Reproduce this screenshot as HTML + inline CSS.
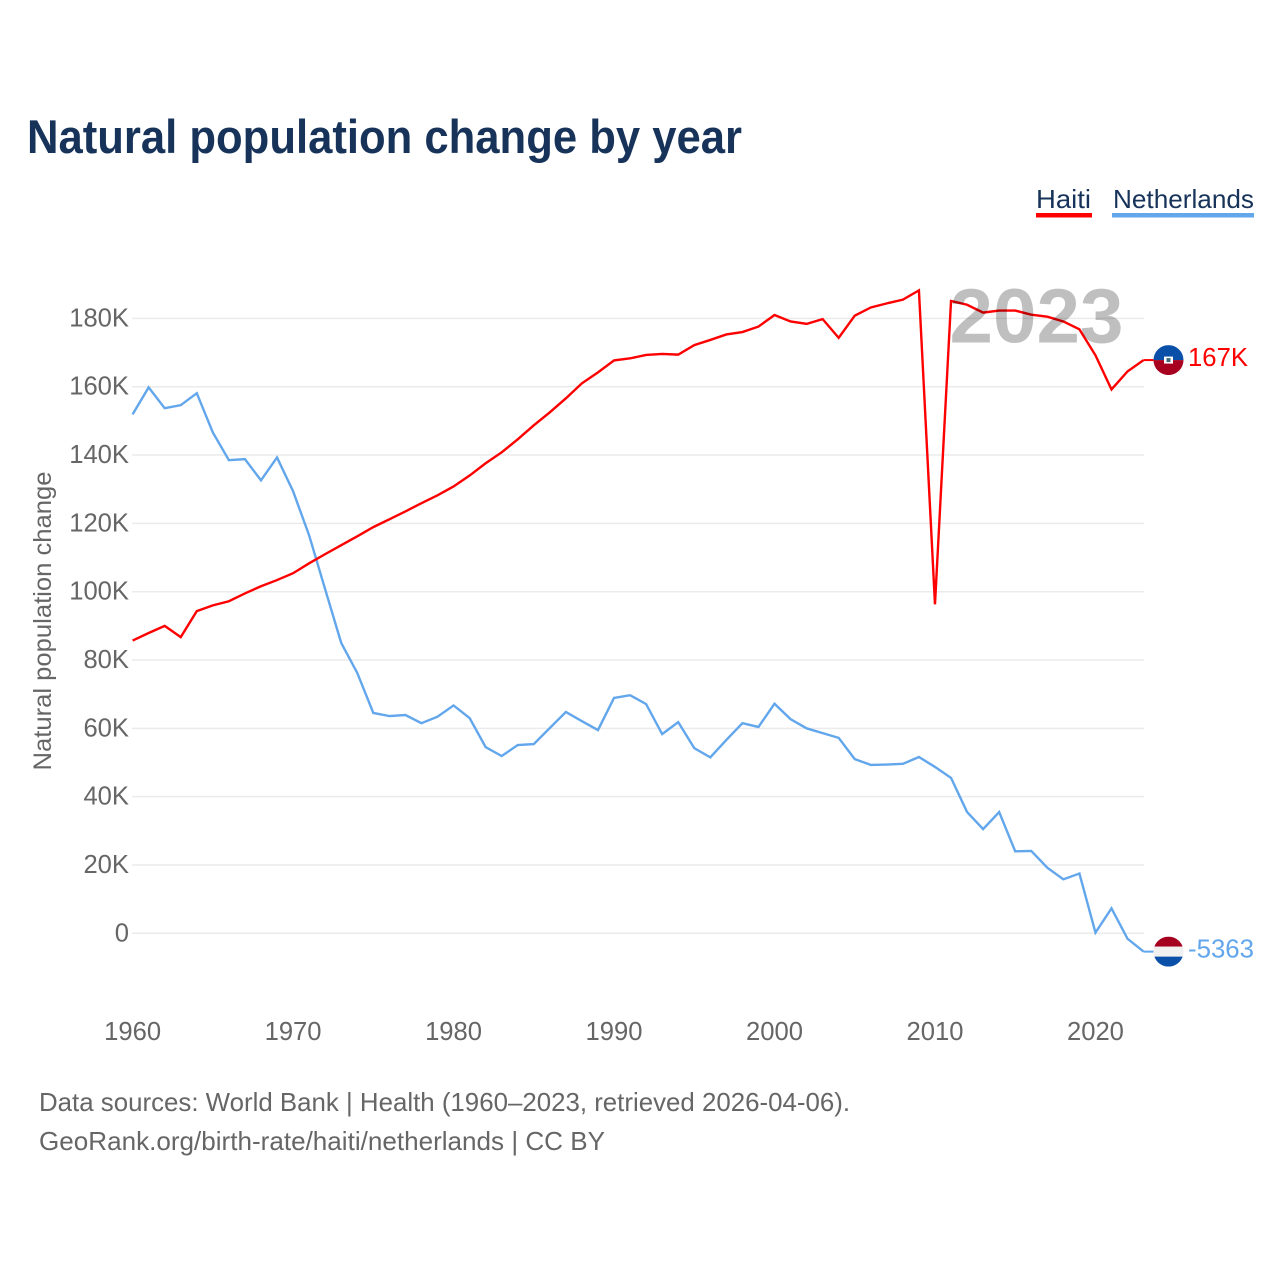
<!DOCTYPE html>
<html lang="en">
<head>
<meta charset="utf-8">
<title>Natural population change by year</title>
<style>
html,body{margin:0;padding:0;background:#fff;width:1280px;height:1280px;overflow:hidden}
svg{display:block;font-family:"Liberation Sans",sans-serif}
</style>
</head>
<body>
<svg id="chart" width="1280" height="1280" viewBox="0 0 1280 1280" xmlns="http://www.w3.org/2000/svg">
  <defs>
    <clipPath id="haiti-clip"><circle id="haiti-clip-circle" r="15"></circle></clipPath>
    <clipPath id="netherlands-clip"><circle id="netherlands-clip-circle" r="15"></circle></clipPath>
  </defs>
  <rect width="1280" height="1280" fill="#fff"></rect>
  <text x="27" y="153" font-size="47" font-weight="700" fill="#17335a" textLength="715" lengthAdjust="spacingAndGlyphs">Natural population change by year</text>

  <g>
    <g>
      <text x="1036" y="208" font-size="26" fill="#17335a" textLength="55" lengthAdjust="spacingAndGlyphs">Haiti</text>
      <rect x="1036" y="213" width="56" height="4.5" fill="#ff0000"></rect>
    </g>
    <g>
      <text x="1113" y="208" font-size="26" fill="#17335a" textLength="141" lengthAdjust="spacingAndGlyphs">Netherlands</text>
      <rect x="1112" y="213" width="142" height="4.5" fill="#62a6ec"></rect>
    </g>
  </g>

  <g id="grid"></g>
  <g id="y-axis"></g>
  <g id="x-axis"></g>
  <text transform="translate(51,621) rotate(-90)" text-anchor="middle" font-size="25" fill="#666" textLength="299" lengthAdjust="spacingAndGlyphs">Natural population change</text>

  <g id="series"></g>

  <text x="1123.5" y="342.5" text-anchor="end" font-size="77" font-weight="700" fill="#000" fill-opacity="0.25" textLength="174" lengthAdjust="spacingAndGlyphs">2023</text>

  <g id="end-markers"></g>

  <g>
    <text x="39" y="1111" font-size="26" fill="#666" textLength="811" lengthAdjust="spacingAndGlyphs">Data sources: World Bank | Health (1960–2023, retrieved 2026-04-06).</text>
    <text x="39" y="1150" font-size="26" fill="#666" textLength="566" lengthAdjust="spacingAndGlyphs">GeoRank.org/birth-rate/haiti/netherlands | CC BY</text>
  </g>
</svg>

<script>
const years = [1960,1961,1962,1963,1964,1965,1966,1967,1968,1969,
  1970,1971,1972,1973,1974,1975,1976,1977,1978,1979,
  1980,1981,1982,1983,1984,1985,1986,1987,1988,1989,
  1990,1991,1992,1993,1994,1995,1996,1997,1998,1999,
  2000,2001,2002,2003,2004,2005,2006,2007,2008,2009,
  2010,2011,2012,2013,2014,2015,2016,2017,2018,2019,
  2020,2021,2022,2023];
const haitiValues = [85700,87900,90000,86700,94300,96000,97200,99500,101600,103400,
  105400,108300,111000,113600,116200,118900,121200,123500,125900,128200,
  130800,134000,137600,140800,144600,148700,152500,156600,161000,164200,
  167700,168300,169300,169600,169400,172200,173700,175300,176000,177600,
  181000,179100,178400,179800,174300,180800,183200,184400,185500,188200,
  96300,185100,184000,181700,182300,182300,181100,180500,179100,176800,
  169200,159200,164500,167800];
const netherlandsValues = [151900,159800,153700,154600,158100,146600,138500,138800,132600,139300,
  129400,116500,100700,85000,76200,64500,63600,63900,61500,63400,
  66700,63000,54500,51900,55100,55400,60100,64800,62100,59500,
  68900,69700,67100,58300,61800,54200,51500,56600,61500,60400,
  67200,62700,60000,58600,57200,51000,49300,49400,49600,51600,
  48700,45500,35500,30500,35500,24000,24100,19200,15800,17500,
  200,7300,-1600,-5363];
const yTickValues = [0,20000,40000,60000,80000,100000,120000,140000,160000,180000];
const yTickLabels = ["0","20K","40K","60K","80K","100K","120K","140K","160K","180K"];
const xTickValues = [1960,1970,1980,1990,2000,2010,2020];
const haitiEndLabel = "167K";
const netherlandsEndLabel = "-5363";

const NS = "http://www.w3.org/2000/svg";
const xScale = function (year) { return 132.6 + (year - 1960) * (1143.6 - 132.6) / 63; };
const yScale = function (value) { return 933.3 - value * 614.9 / 180000; };

function make(tag, attrs, parent) {
  const el = document.createElementNS(NS, tag);
  Object.keys(attrs).forEach(function (k) { el.setAttribute(k, attrs[k]); });
  parent.appendChild(el);
  return el;
}

const gridGroup = document.getElementById("grid");
const yAxisGroup = document.getElementById("y-axis");
yTickValues.forEach(function (v, i) {
  const line = make("line", {x1: 132, x2: 1144, y1: yScale(v), y2: yScale(v), stroke: "#ebebeb", "stroke-width": 1.5}, gridGroup);
  
  
  const label = make("text", {x: 129, y: yScale(v) + 8, "text-anchor": "end", "font-size": 25.6, fill: "#666"}, yAxisGroup);
  
  
  label.textContent = yTickLabels[i];
});

const xAxisGroup = document.getElementById("x-axis");
xTickValues.forEach(function (v) {
  const label = make("text", {x: xScale(v), y: 1040, "text-anchor": "middle", "font-size": 25.6, fill: "#666"}, xAxisGroup);
  
  
  label.textContent = String(v);
});

function pathFor(values) {
  return values.map(function (v, i) {
    return (i ? "L" : "M") + xScale(years[i]).toFixed(2) + " " + yScale(v).toFixed(2);
  }).join(" ");
}

const seriesGroup = document.getElementById("series");
const netherlandsLine = make("path", {d: pathFor(netherlandsValues), fill: "none", stroke: "#62a6ec", "stroke-width": 2.4, "stroke-linejoin": "miter"}, seriesGroup);


const haitiLine = make("path", {d: pathFor(haitiValues), fill: "none", stroke: "#ff0000", "stroke-width": 2.4, "stroke-linejoin": "miter"}, seriesGroup);



const markers = document.getElementById("end-markers");
const lastYear = years[years.length - 1];
const endX = xScale(lastYear);
const flagX = 1168.5;

/* Haiti end marker */
const haitiY = yScale(haitiValues[haitiValues.length - 1]);
const haitiConnector = make("line", {x1: endX, x2: flagX - 15, y1: haitiY, y2: haitiY, stroke: "#ff0000", "stroke-width": 2}, markers);


const hc = document.getElementById("haiti-clip-circle");
hc.setAttribute("cx", flagX);
hc.setAttribute("cy", haitiY);
const haitiFlag = make("g", {"clip-path": "url(#haiti-clip)"}, markers);


make("rect", {x: flagX - 15, y: haitiY - 15, width: 30, height: 15, fill: "#0a4fa8"}, haitiFlag);
make("rect", {x: flagX - 15, y: haitiY, width: 30, height: 15, fill: "#a8001f"}, haitiFlag);
make("rect", {x: flagX - 4.5, y: haitiY - 3.5, width: 9, height: 7, fill: "#fff"}, haitiFlag);
make("rect", {x: flagX - 2, y: haitiY - 2, width: 4, height: 4, fill: "#3c6a78"}, haitiFlag);
const haitiLabel = make("text", {x: 1188, y: haitiY + 6, "font-size": 25.5, fill: "#ff0000", textLength: 60, lengthAdjust: "spacingAndGlyphs"}, markers);


haitiLabel.textContent = haitiEndLabel;

/* Netherlands end marker */
const nlY = yScale(netherlandsValues[netherlandsValues.length - 1]);
const nlConnector = make("line", {x1: endX, x2: flagX - 15, y1: nlY, y2: nlY, stroke: "#62a6ec", "stroke-width": 2}, markers);


const nc = document.getElementById("netherlands-clip-circle");
nc.setAttribute("cx", flagX);
nc.setAttribute("cy", nlY);
const nlFlag = make("g", {"clip-path": "url(#netherlands-clip)"}, markers);


make("rect", {x: flagX - 15, y: nlY - 15, width: 30, height: 10, fill: "#a5001f"}, nlFlag);
make("rect", {x: flagX - 15, y: nlY - 5, width: 30, height: 10, fill: "#f0f0f0"}, nlFlag);
make("rect", {x: flagX - 15, y: nlY + 5, width: 30, height: 10, fill: "#0a4fa8"}, nlFlag);
const nlLabel = make("text", {x: 1188, y: nlY + 6, "font-size": 25.5, fill: "#62a6ec", textLength: 66, lengthAdjust: "spacingAndGlyphs"}, markers);


nlLabel.textContent = netherlandsEndLabel;
</script>
</body>
</html>
